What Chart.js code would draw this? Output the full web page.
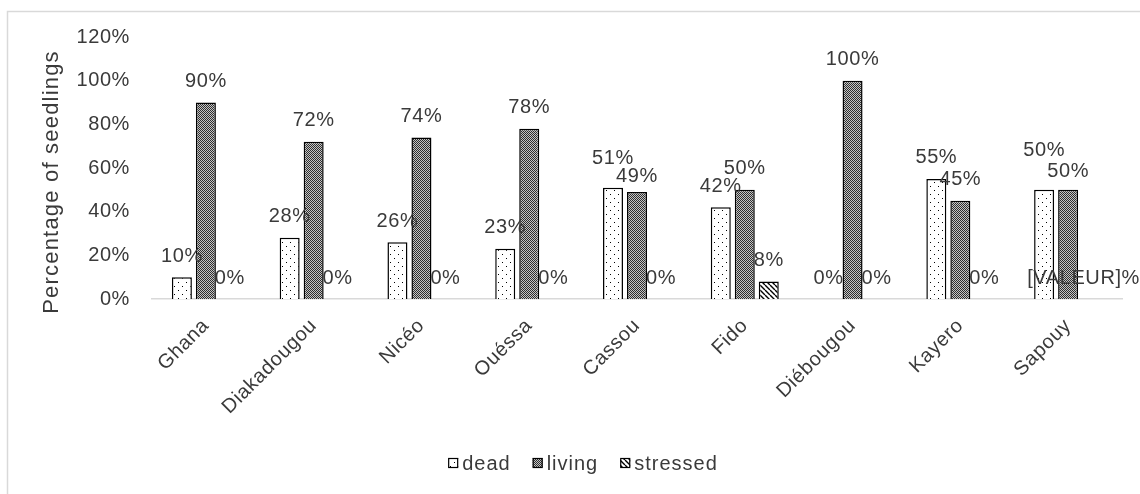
<!DOCTYPE html>
<html><head><meta charset="utf-8">
<script src="https://cdn.jsdelivr.net/npm/chart.js@4/dist/chart.umd.min.js"></script>
<style>html,body{margin:0;padding:0;background:#fff;overflow:hidden}#wrap{width:1140px;height:494px;position:relative}</style>
</head><body><div id="wrap"><canvas id="c"></canvas></div>
<script>
const categories = ['Ghana','Diakadougou','Nicéo','Ouéssa','Cassou','Fido','Diébougou','Kayero','Sapouy'];
const seriesNames = ['dead','living','stressed'];
const deadValues = [10,28,26,23,51,42,0,55,50];
const livingValues = [90,72,74,78,49,50,100,45,50];
const stressedValues = [0,0,0,0,0,8,0,0,0];
const stressedLabels = [null,null,null,null,null,null,null,null,'[VALEUR]%'];
const yTicks = [0,20,40,60,80,100,120];
const yAxisTitle = 'Percentage of seedlings';

const FONT = '"Liberation Sans", Arial, sans-serif';
const TXT = '#3a3a3a';
const SPACING = '0.6px';
// manual nudges of overlapping value labels (dataset,index -> extra px upward)
const LABEL_NUDGE = { '0,4': 8, '1,4': -5, '0,8': 18, '1,8': -3 };

function makePattern(kind){
  const c = document.createElement('canvas');
  const x = c.getContext('2d');
  if (kind === 'dots') {
    c.width = 8; c.height = 8;
    x.fillStyle = '#fff'; x.fillRect(0,0,8,8);
    x.fillStyle = '#000'; x.fillRect(2,2,1,1); x.fillRect(6,6,1,1);
  } else if (kind === 'checker') {
    c.width = 2; c.height = 2;
    x.fillStyle = '#c4c4c4'; x.fillRect(0,0,2,2);
    x.fillStyle = '#2e2e2e'; x.fillRect(0,0,1,1); x.fillRect(1,1,1,1);
  } else {
    c.width = 5; c.height = 5;
    x.fillStyle = '#fff'; x.fillRect(0,0,5,5);
    x.strokeStyle = '#000'; x.lineWidth = 1.4;
    x.beginPath();
    for (let k = -1; k <= 1; k++) { x.moveTo(k*5, 0); x.lineTo(k*5+5, 5); }
    x.stroke();
  }
  return x.createPattern(c, 'repeat');
}
const fills = [makePattern('dots'), makePattern('checker'), makePattern('diag')];

const spacingPlugin = {
  id: 'spacing',
  beforeUpdate(chart){ chart.ctx.letterSpacing = SPACING; },
  beforeDraw(chart){ chart.ctx.letterSpacing = SPACING; }
};

const framePlugin = {
  id: 'frame',
  beforeDraw(chart){
    const ctx = chart.ctx;
    ctx.save();
    ctx.fillStyle = '#fff';
    ctx.fillRect(0,0,chart.width,chart.height);
    ctx.strokeStyle = '#d9d9d9';
    ctx.lineWidth = 1.5;
    ctx.strokeRect(7.5, 11.5, chart.width + 10, chart.height + 10);
    ctx.restore();
  }
};

const titlePlugin = {
  id: 'ytitle',
  afterDraw(chart){
    const ctx = chart.ctx;
    const a = chart.chartArea;
    ctx.save();
    ctx.font = '22px ' + FONT;
    ctx.letterSpacing = '1.2px';
    ctx.fillStyle = TXT;
    ctx.textAlign = 'center';
    ctx.textBaseline = 'middle';
    ctx.translate(52, (a.top + a.bottom) / 2 + 14);
    ctx.rotate(-Math.PI/2);
    ctx.fillText(yAxisTitle, 0, 0);
    ctx.restore();
  }
};

const valueLabels = {
  id: 'valueLabels',
  afterDatasetsDraw(chart){
    const ctx = chart.ctx;
    ctx.save();
    ctx.font = '20px ' + FONT;
    ctx.letterSpacing = SPACING;
    ctx.fillStyle = TXT;
    ctx.textAlign = 'center';
    ctx.textBaseline = 'middle';
    chart.data.datasets.forEach((ds, di) => {
      const meta = chart.getDatasetMeta(di);
      meta.data.forEach((bar, i) => {
        const txt = (ds.customLabels && ds.customLabels[i]) || (ds.data[i] + '%');
        const w = ctx.measureText(txt).width;
        let x = bar.x;
        if (x + w/2 > chart.width) x = chart.width - w/2;
        const nudge = LABEL_NUDGE[di + ',' + i] || 0;
        ctx.fillText(txt, x, bar.y - 21 - nudge);
      });
    });
    ctx.restore();
  }
};

const legendPlugin = {
  id: 'customLegend',
  afterDraw(chart){
    const ctx = chart.ctx;
    ctx.save();
    ctx.font = '20px ' + FONT;
    ctx.letterSpacing = '1px';
    const box = 10, gapText = 4, gapItem = 22;
    const items = chart.data.datasets.map(d => d.label);
    const widths = items.map(t => ctx.measureText(t).width);
    let total = 0;
    widths.forEach((w, i) => { total += box + gapText + w + (i < widths.length - 1 ? gapItem : 0); });
    let x = 583 - total / 2;
    const y = 463;
    chart.data.datasets.forEach((ds, i) => {
      ctx.fillStyle = ds.backgroundColor;
      ctx.fillRect(x, y - box/2, box, box);
      ctx.strokeStyle = '#000';
      ctx.lineWidth = 1.2;
      ctx.strokeRect(x + 0.5, y - box/2 + 0.5, box - 1, box - 1);
      ctx.fillStyle = TXT;
      ctx.textAlign = 'left';
      ctx.textBaseline = 'middle';
      ctx.fillText(items[i], x + box + gapText, y + 1);
      x += box + gapText + widths[i] + gapItem;
    });
    ctx.restore();
  }
};

const commonBar = {
  borderColor: '#000',
  borderWidth: 1.5,
  categoryPercentage: 0.668,
  barPercentage: 0.833
};

new Chart(document.getElementById('c'), {
  type: 'bar',
  data: {
    labels: categories,
    datasets: [
      Object.assign({ label: seriesNames[0], data: deadValues, backgroundColor: fills[0] }, commonBar),
      Object.assign({ label: seriesNames[1], data: livingValues, backgroundColor: fills[1] }, commonBar),
      Object.assign({ label: seriesNames[2], data: stressedValues, backgroundColor: fills[2], customLabels: stressedLabels }, commonBar)
    ]
  },
  options: {
    responsive: true,
    maintainAspectRatio: false,
    animation: false,
    devicePixelRatio: 1,
    layout: { padding: { left: 0, top: 37, right: 18, bottom: 0 } },
    plugins: { legend: { display: false }, tooltip: { enabled: false } },
    scales: {
      x: {
        grid: { display: false, drawTicks: false },
        border: { display: true, color: '#d9d9d9', width: 1.5 },
        ticks: { color: TXT, font: { family: FONT, size: 20 }, minRotation: 45, maxRotation: 45, padding: 15, autoSkip: false },
        afterFit(scale){ scale.height = 195; }
      },
      y: {
        min: 0, max: 120,
        grid: { display: false, drawTicks: false },
        border: { display: false },
        afterBuildTicks(scale){ scale.ticks = yTicks.map(v => ({ value: v })); },
        ticks: { color: TXT, font: { family: FONT, size: 20 }, padding: 22, callback: v => v + '%' },
        afterFit(scale){ scale.width = 152; }
      }
    }
  },
  plugins: [spacingPlugin, framePlugin, valueLabels, titlePlugin, legendPlugin]
});
</script>
</body></html>
